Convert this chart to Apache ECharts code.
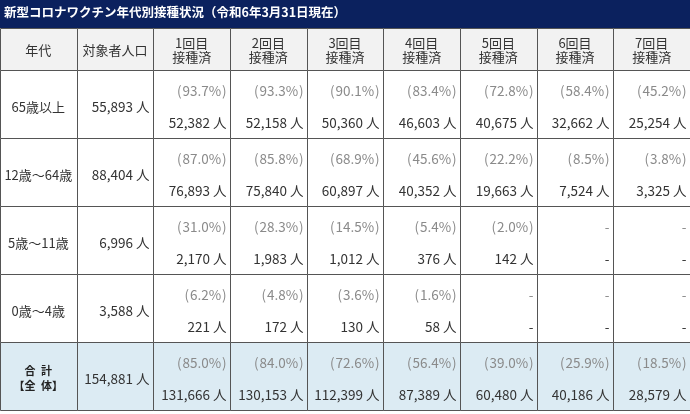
<!DOCTYPE html>
<html>
<head>
<meta charset="utf-8">
<script src="https://cdn.jsdelivr.net/npm/echarts@6/dist/echarts.min.js"></script>
<style>
html, body { margin: 0; padding: 0; background: #fff; }
#chart { width: 690px; height: 414px; }
</style>
</head>
<body>
<div id="chart"></div>
<script>
// 表のデータ
const titleText = '新型コロナワクチン年代別接種状況（令和6年3月31日現在）'
const headLabels = ['年代', '対象者人口', '1回目\n接種済', '2回目\n接種済', '3回目\n接種済', '4回目\n接種済', '5回目\n接種済', '6回目\n接種済', '7回目\n接種済']
const ageGroups = ['65歳以上', '12歳～64歳', '5歳～11歳', '0歳～4歳', '合\u2002計\n【全\u2002体】']
const population = [55893, 88404, 6996, 3588, 154881]

// 接種者数（人）
const count65 = [52382, 52158, 50360, 46603, 40675, 32662, 25254]
const count12 = [76893, 75840, 60897, 40352, 19663, 7524, 3325]
const count5 = [2170, 1983, 1012, 376, 142, null, null]
const count0 = [221, 172, 130, 58, null, null, null]
const countAll = [131666, 130153, 112399, 87389, 60480, 40186, 28579]

// 接種率（%）
const rate65 = [93.7, 93.3, 90.1, 83.4, 72.8, 58.4, 45.2]
const rate12 = [87.0, 85.8, 68.9, 45.6, 22.2, 8.5, 3.8]
const rate5 = [31.0, 28.3, 14.5, 5.4, 2.0, null, null]
const rate0 = [6.2, 4.8, 3.6, 1.6, null, null, null]
const rateAll = [85.0, 84.0, 72.6, 56.4, 39.0, 25.9, 18.5]

const counts = [count65, count12, count5, count0, countAll]
const rates = [rate65, rate12, rate5, rate0, rateAll]

const FONT = '"Noto Sans CJK JP", sans-serif'
const colIdx = headLabels.map((_, i) => i)

const fmt = n => n.toLocaleString('en-US') + ' 人'
const fmtRate = r => '(\u200a' + r.toFixed(1) + '%\u200a)'

function cellRect (api, col, row) {
  const c = api.coord([col, row])
  const s = api.size([1, 1])
  const x0 = Math.round(c[0] - s[0] / 2) + 0.5
  const y0 = Math.round(c[1] - s[1] / 2) + 0.5
  const x1 = Math.round(c[0] + s[0] / 2) + 0.5
  const y1 = Math.round(c[1] + s[1] / 2) + 0.5
  return { x: x0, y: y0, width: x1 - x0, height: y1 - y0, cx: c[0], cy: c[1] }
}

function text (str, x, y, color, align, size, weight, lh) {
  return {
    type: 'text',
    style: {
      text: str,
      x: x,
      y: y,
      fill: color,
      align: align,
      verticalAlign: 'middle',
      fontSize: size || 13,
      fontWeight: weight || 'normal',
      fontFamily: FONT,
      lineHeight: lh || 16
    }
  }
}

function renderHead (params, api) {
  const col = api.value(0)
  const r = cellRect(api, col, 0)
  return {
    type: 'group',
    children: [
      { type: 'rect', shape: { x: r.x, y: r.y, width: r.width, height: r.height }, style: { fill: '#f2f2f2', stroke: '#555', lineWidth: 1 } },
      text(headLabels[col], r.cx, r.cy + 1, '#333', 'center', 13, 'normal', 14)
    ]
  }
}

function renderBody (params, api) {
  const col = api.value(0)
  const row = api.value(1)
  const r = cellRect(api, col, row)
  const isTotal = row === ageGroups.length - 1
  const children = [
    { type: 'rect', shape: { x: r.x, y: r.y, width: r.width, height: r.height }, style: { fill: isTotal ? '#dcebf3' : '#fff', stroke: '#555', lineWidth: 1 } }
  ]
  const right = r.x + r.width - 4
  if (col === 0) {
    if (isTotal) {
      children.push(text(ageGroups[row], r.cx, r.cy + 2, '#222', 'center', 11, 'bold', 15))
    } else {
      children.push(text(ageGroups[row], r.cx, r.cy + 3, '#333', 'center', 13))
    }
  } else if (col === 1) {
    children.push(text(fmt(population[row]), right, r.cy + 3, '#333', 'right', 13.5))
  } else {
    const rate = rates[row][col - 2]
    const cnt = counts[row][col - 2]
    children.push(text(rate == null ? '-' : fmtRate(rate), right, r.cy - 13, '#8a8a8a', 'right', 13.5))
    children.push(text(cnt == null ? '-' : fmt(cnt), right, r.cy + 19, '#333', 'right', 13.5))
  }
  return { type: 'group', children: children }
}

const bodyData = []
ageGroups.forEach((_, row) => {
  colIdx.forEach(col => bodyData.push([col, row]))
})

const chart = echarts.init(document.getElementById('chart'), null, { renderer: 'canvas' })
chart.setOption({
  animation: false,
  title: {
    text: titleText,
    left: 4,
    top: 6,
    padding: 0,
    textStyle: { color: '#fff', fontSize: 12.5, fontWeight: 'bold', fontFamily: FONT }
  },
  graphic: [
    { type: 'rect', left: 0, top: 0, z: -1, shape: { width: 690, height: 28 }, style: { fill: '#0b215e' } }
  ],
  grid: [
    { left: 0, right: 0, top: 28, height: 42 },
    { left: 0, right: 0, top: 70, bottom: 4 }
  ],
  xAxis: [
    { type: 'category', gridIndex: 0, data: colIdx, show: false },
    { type: 'category', gridIndex: 1, data: colIdx, show: false }
  ],
  yAxis: [
    { type: 'category', gridIndex: 0, data: ['head'], show: false },
    { type: 'category', gridIndex: 1, data: ageGroups, inverse: true, show: false }
  ],
  series: [
    {
      type: 'custom',
      xAxisIndex: 0,
      yAxisIndex: 0,
      renderItem: renderHead,
      data: colIdx.map(c => [c, 0])
    },
    {
      type: 'custom',
      xAxisIndex: 1,
      yAxisIndex: 1,
      renderItem: renderBody,
      data: bodyData
    }
  ]
})
</script>
</body>
</html>
